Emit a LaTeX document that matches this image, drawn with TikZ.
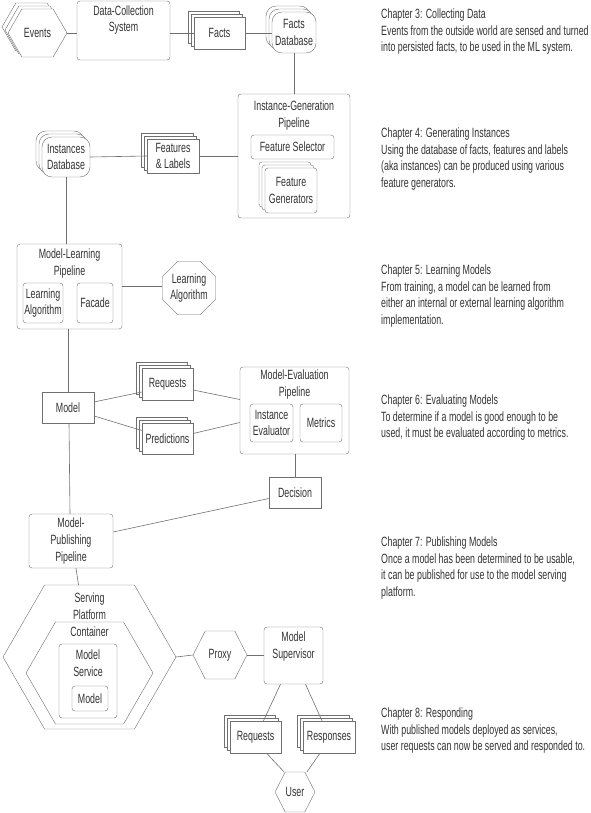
\documentclass[tikz,border=0pt]{standalone}
\usepackage{fontspec}
\setmainfont{Liberation Sans}[FakeStretch=0.66]
\usepackage{tikz}
\usetikzlibrary{shapes.geometric,shapes.symbols,shadows}

\definecolor{linegray}{HTML}{707070}
\definecolor{inkgray}{HTML}{333333}
\newcommand{\chfont}{\fontsize{13.4}{16.7}\selectfont}

\tikzset{
  every node/.style={font=\chfont, text=inkgray, align=center},
  wh/.style 2 args={minimum width=#1pt, minimum height=#2pt},
  pipe/.style={draw=linegray, fill=white, rounded corners=3pt, inner sep=0pt},
  plainbox/.style={draw=linegray, fill=white, inner sep=0pt},
  stacked/.style={double copy shadow={shadow xshift=-3pt, shadow yshift=3pt}},
  dbstack/.style={draw=linegray, fill=white, rounded corners=10pt, inner sep=0pt, stacked},
  hexa/.style={signal, signal to=west and east, signal pointer angle=#1,
    draw=linegray, fill=white, inner sep=0pt},
  hexa/.default=120,
  boxtitle/.style={inner sep=0pt},
  chapter/.style={anchor=north west, align=left, inner sep=0pt},
  link/.style={draw=linegray, line width=0.6pt}
}

\begin{document}
\begin{tikzpicture}[x=1pt,y=-1pt]
  \useasboundingbox (0,0) rectangle (590,813);

  % Collecting data
  \node[hexa, stacked, wh={59}{48}] (events) at (37.5,33) {Events};
  \node[pipe, wh={93}{59}] (dcs) at (123.5,30.5) {};
  \node[boxtitle] (dcstitle) at (123.5,20) {Data-Collection\\System};
  \node[plainbox, stacked, wh={51}{32}] (facts) at (219.5,33) {Facts};
  \node[dbstack, wh={44}{41}] (factsdb) at (294,32.5) {Facts\\Database};

  % Generating instances
  \node[pipe, wh={112}{124}] (igp) at (294,156) {};
  \node[boxtitle] (igptitle) at (294,115.5) {Instance-Generation\\Pipeline};
  \node[pipe, wh={83}{24}] (fsel) at (292.5,147) {Feature Selector};
  \node[pipe, stacked, wh={52}{45}] (fgen) at (291,190.5) {Feature\\Generators};
  \node[plainbox, stacked, wh={52}{34}] (featlab) at (173,156) {Features\\\& Labels};
  \node[dbstack, wh={48}{40}] (instdb) at (66,157) {Instances\\Database};

  % Learning models
  \node[pipe, wh={105}{85}] (mlp) at (69.5,286.5) {};
  \node[boxtitle] (mlptitle) at (69.5,263.5) {Model-Learning\\Pipeline};
  \node[pipe, wh={40}{40}] (learnalg) at (43,303) {Learning\\Algorithm};
  \node[pipe, wh={36}{40}] (facade) at (95,303) {Facade};
  \node[regular polygon, regular polygon sides=8, minimum size=58pt,
    draw=linegray, fill=white, inner sep=0pt] (extalg) at (189,288) {Learning\\Algorithm};

  % Evaluating models
  \node[plainbox, wh={52}{31}] (model) at (68,407.5) {Model};
  \node[plainbox, stacked, wh={51}{32}] (evreq) at (167.5,384) {Requests};
  \node[plainbox, stacked, wh={51}{31}] (evpred) at (167.5,438.5) {Predictions};
  \node[pipe, wh={109}{87}] (mep) at (294.5,410.5) {};
  \node[boxtitle] (meptitle) at (294.5,384.5) {Model-Evaluation\\Pipeline};
  \node[pipe, wh={43}{38}] (ieval) at (271.5,423) {Instance\\Evaluator};
  \node[pipe, wh={42}{38}] (metrics) at (321,423) {Metrics};
  \node[plainbox, wh={52}{31}] (decision) at (295,492.5) {Decision};

  % Publishing models
  \node[pipe, wh={84}{54}] (mpp) at (71,541) {Model-\\Publishing\\Pipeline};
  \node[hexa, wh={173}{144}] (platform) at (89.5,657) {};
  \node[boxtitle] (platformtitle) at (89.5,606) {Serving\\Platform};
  \node[hexa, wh={127}{102}] (container) at (89.5,673) {};
  \node[boxtitle] (containertitle) at (89.5,632) {Container};
  \node[pipe, wh={58}{74}] (msvc) at (88,681) {};
  \node[boxtitle] (msvctitle) at (88,663) {Model\\Service};
  \node[pipe, wh={36}{25}] (svcmodel) at (90,698.5) {Model};

  % Responding
  \node[hexa=126, wh={54}{48}] (proxy) at (220,655) {Proxy};
  \node[pipe, wh={59}{57}] (msup) at (293.5,655.5) {};
  \node[boxtitle] (msuptitle) at (293.5,646.5) {Model\\Supervisor};
  \node[plainbox, stacked, wh={51}{32}] (srvreq) at (255.5,737) {Requests};
  \node[plainbox, stacked, wh={52}{32}] (srvresp) at (329,737) {Responses};
  \node[hexa=126, wh={40}{40}] (user) at (295,792) {User};

  % Connectors
  \draw[link] (events.east) -- (events.east -| dcs.west);
  \draw[link] (dcs.east |- facts.west) -- (facts.west);
  \draw[link] (facts.east) -- (facts.east -| factsdb.west);
  \draw[link] (factsdb.south) -- (igp.north);
  \draw[link] (instdb.east) -- (featlab.west);
  \draw[link] (featlab.east) -- (igp.west);
  \draw[link] (instdb.south) -- (instdb.south |- mlp.north);
  \draw[link] (mlp.east) -- (mlp.east -| extalg.west);
  \draw[link] (mlp.south -| model.north) -- (model.north);
  \draw[link] ([xshift=1pt]model.south) -- ([xshift=-1pt]mpp.north);
  \draw[link] (model.12) -- ([yshift=-8pt]evreq.west);
  \draw[link] (model.-18) -- ([yshift=8pt]evpred.west);
  \draw[link] ([yshift=-6pt]evreq.east) -- ([yshift=11pt]mep.west);
  \draw[link] ([yshift=5pt]evpred.east) -- ([yshift=-12pt]mep.west);
  \draw[link] (mep.south -| decision.north) -- (decision.north);
  \draw[link] ([yshift=-6pt]decision.west) -- ([yshift=9pt]mpp.east);
  \draw[link] ([xshift=5pt]mpp.south) -- ([xshift=-11pt]platform.north);
  \draw[link] (platform.east) -- (proxy.west);
  \draw[link] (proxy.east) -- (proxy.east -| msup.west);
  \draw[link] ([xshift=-13pt]msup.south) -- ([xshift=8pt]srvreq.north);
  \draw[link] ([xshift=12pt]msup.south) -- ([xshift=-7pt]srvresp.north);
  \draw[link] ([xshift=11pt]srvreq.south) -- ([xshift=-11pt]user.north);
  \draw[link] ([xshift=-9pt]srvresp.south) -- ([xshift=12pt]user.north);

  % Chapter notes
  \node[chapter] (ch3) at (381,8.5) {Chapter 3: Collecting Data\\Events from the outside world are sensed and turned\\into persisted facts, to be used in the ML system.};
  \node[chapter] (ch4) at (381,127.5) {Chapter 4: Generating Instances\\Using the database of facts, features and labels\\(aka instances) can be produced using various\\feature generators.};
  \node[chapter] (ch5) at (381,264.5) {Chapter 5: Learning Models\\From training, a model can be learned from\\either an internal or external learning algorithm\\implementation.};
  \node[chapter] (ch6) at (381,394.5) {Chapter 6: Evaluating Models\\To determine if a model is good enough to be\\used, it must be evaluated according to metrics.};
  \node[chapter] (ch7) at (381,536.5) {Chapter 7: Publishing Models\\Once a model has been determined to be usable,\\it can be published for use to the model serving\\platform.};
  \node[chapter] (ch8) at (381,707.5) {Chapter 8: Responding\\With published models deployed as services,\\user requests can now be served and responded to.};
\end{tikzpicture}
\end{document}
